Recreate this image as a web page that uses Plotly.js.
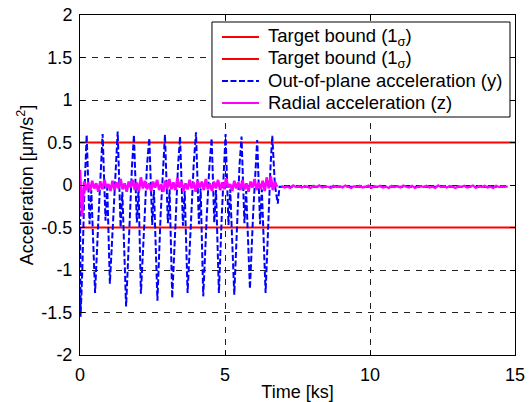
<!DOCTYPE html>
<html>
<head>
<meta charset="utf-8">
<script src="https://cdn.plot.ly/plotly-3.0.1.min.js"></script>
<style>html,body{margin:0;padding:0;background:#fff;}#chart{width:530px;height:402px;}</style>
</head>
<body>
<div id="chart"></div>
<script>
// ---- Data ----
var boundTime = [0, 15];
var boundUpper = [0.5, 0.5];
var boundLower = [-0.5, -0.5];

// Out-of-plane acceleration (y), time in ks
var outPlaneTime = [
  0.00, 0.02, 0.08, 0.14,
  0.23, 0.33, 0.39, 0.52, 0.64, 0.71,
  0.78, 0.88, 0.94, 1.03, 1.15, 1.23,
  1.30, 1.40, 1.46, 1.59, 1.71, 1.79,
  1.86, 1.96, 2.02, 2.10, 2.23, 2.31,
  2.39, 2.49, 2.55, 2.67, 2.78, 2.86,
  2.93, 3.03, 3.09, 3.18, 3.30, 3.38,
  3.45, 3.55, 3.61, 3.71, 3.84, 3.92,
  4.00, 4.10, 4.16, 4.25, 4.37, 4.46,
  4.54, 4.63, 4.69, 4.79, 4.89, 4.96,
  5.02, 5.12, 5.18, 5.32, 5.43, 5.50,
  5.57, 5.67, 5.73, 5.86, 5.97, 6.05,
  6.11, 6.21, 6.27, 6.40, 6.50, 6.57,
  6.63, 6.72, 6.82, 6.88, 14.70
];
var outPlaneAcc = [
  0.00, -1.55, -1.00, -0.20,
  0.59, -0.46, -0.06, -1.27, -0.36, 0.22,
  0.60, -0.42, -0.03, -1.16, -0.38, 0.24,
  0.63, -0.50, -0.08, -1.43, -0.34, 0.20,
  0.59, -0.44, -0.04, -1.28, -0.37, 0.23,
  0.55, -0.47, -0.06, -1.36, -0.35, 0.21,
  0.59, -0.45, -0.05, -1.33, -0.36, 0.22,
  0.57, -0.48, -0.07, -1.27, -0.34, 0.24,
  0.62, -0.46, -0.04, -1.31, -0.37, 0.21,
  0.55, -0.44, -0.06, -1.27, -0.35, 0.22,
  0.60, -0.47, -0.05, -1.29, -0.36, 0.23,
  0.57, -0.45, -0.07, -1.22, -0.34, 0.21,
  0.53, -0.46, -0.05, -1.27, -0.36, 0.22,
  0.58, 0.00, -0.22, -0.02, -0.02
];

// Radial acceleration (z): manoeuvre phase, sampled every 0.07 ks from t = 0
var radialStart = 0;
var radialStep = 0.07;
var radialAcc = [
  0.18, -0.37, 0.04, -0.06, 0.03, -0.07, 0.05, -0.04, 0.02, -0.08,
  0.04, -0.05, 0.06, -0.03, 0.01, -0.07, 0.05, -0.06, 0.03, -0.04,
  0.07, -0.05, 0.02, -0.08, 0.04, -0.03, 0.06, -0.06, 0.03, -0.07,
  0.09, -0.04, 0.05, -0.05, 0.02, -0.07, 0.04, -0.03, 0.06, -0.06,
  0.01, -0.08, 0.05, -0.04, 0.07, -0.05, 0.03, -0.06, 0.08, -0.03,
  0.04, -0.07, 0.02, -0.05, 0.06, -0.04, 0.03, -0.08, 0.05, -0.03,
  0.04, -0.06, 0.07, -0.05, 0.02, -0.07, 0.04, -0.04, 0.06, -0.06,
  0.03, -0.05, 0.08, -0.03, 0.01, -0.07, 0.05, -0.04, 0.03, -0.06,
  0.06, -0.05, 0.02, -0.08, 0.04, -0.03, 0.07, -0.06, 0.03, -0.05,
  0.05, -0.07, 0.09, -0.04, 0.10, -0.06, 0.04, -0.02
];
// Radial acceleration (z): quiet phase, sampled every 0.1 ks from t = 6.95
var radialTailStart = 6.95;
var radialTailStep = 0.1;
var radialTailAcc = [
  -0.01, -0.03, -0.02, -0.035, -0.005, -0.025, -0.015, -0.03, -0.01, -0.02,
  -0.035, -0.01, -0.025, -0.005, -0.03, -0.015, -0.02, -0.035, -0.01, -0.025,
  -0.015, -0.03, -0.005, -0.02, -0.035, -0.015, -0.025, -0.01, -0.03, -0.02,
  -0.005, -0.035, -0.015, -0.025, -0.01, -0.03, -0.02, -0.035, -0.01, -0.025,
  -0.015, -0.03, -0.005, -0.02, -0.03, -0.01, -0.035, -0.02, -0.015, -0.025,
  -0.01, -0.03, -0.02, -0.035, -0.005, -0.025, -0.015, -0.03, -0.01, -0.02,
  -0.035, -0.015, -0.025, -0.01, -0.03, -0.02, -0.005, -0.035, -0.015, -0.025,
  -0.01, -0.03, -0.02, -0.035, -0.01, -0.025, -0.015, -0.02, -0.02
];

var xTicks = [0, 5, 10, 15];
var yTicks = [-2, -1.5, -1, -0.5, 0, 0.5, 1, 1.5, 2];
var yTickLabels = ['-2', '-1.5', '-1', '-0.5', '0', '0.5', '1', '1.5', '2'];

var legendNames = [
  'Target bound (1<sub>σ</sub>)',
  'Target bound (1<sub>σ</sub>)',
  'Out-of-plane acceleration (y)',
  'Radial acceleration (z)'
];

// ---- Styles ----
var FONT = 'Liberation Sans, Arial, sans-serif';
var RED = '#ff0000', BLUE = '#0000ff', MAGENTA = '#ff00ff';
var BLUE_DASH = '6px,2.5px';
var lineStyles = [
  {color: RED, width: 2},
  {color: RED, width: 2},
  {color: BLUE, width: 2, dash: BLUE_DASH},
  {color: MAGENTA, width: 2}
];

var traces = [
  {x: boundTime, y: boundUpper, type: 'scatter', mode: 'lines', name: legendNames[0],
   line: lineStyles[0], showlegend: false},
  {x: boundTime, y: boundLower, type: 'scatter', mode: 'lines', name: legendNames[1],
   line: lineStyles[1], showlegend: false},
  {x: outPlaneTime, y: outPlaneAcc, type: 'scatter', mode: 'lines', name: legendNames[2],
   line: lineStyles[2], showlegend: false},
  {x0: radialStart, dx: radialStep, y: radialAcc, type: 'scatter', mode: 'lines', name: legendNames[3],
   line: {color: MAGENTA, width: 2.6}, showlegend: false},
  {x0: radialTailStart, dx: radialTailStep, y: radialTailAcc, type: 'scatter', mode: 'lines', name: legendNames[3],
   line: {color: MAGENTA, width: 2.2}, showlegend: false}
];

// ---- Legend box (MATLAB style), in paper coordinates ----
var legBox = {x0: 0.3034, x1: 0.9885, y0: 0.700, y1: 0.9794};
var legRowsY = [0.9353, 0.8706, 0.8059, 0.7412];
var legSampleX = [0.3264, 0.4115];
var legTextX = 0.4276;

var shapes = [{
  type: 'rect', xref: 'paper', yref: 'paper',
  x0: legBox.x0, x1: legBox.x1, y0: legBox.y0, y1: legBox.y1,
  fillcolor: '#fff', line: {color: '#000', width: 1}, layer: 'above'
}];
var annotations = [];
legendNames.forEach(function (name, i) {
  shapes.push({
    type: 'line', xref: 'paper', yref: 'paper',
    x0: legSampleX[0], x1: legSampleX[1], y0: legRowsY[i], y1: legRowsY[i],
    line: lineStyles[i], layer: 'above'
  });
  annotations.push({
    xref: 'paper', yref: 'paper', x: legTextX, y: legRowsY[i],
    xanchor: 'left', yanchor: 'middle', showarrow: false, text: name,
    font: {family: FONT, size: 18.5, color: '#000'}
  });
});

var axisCommon = {
  showline: true, linecolor: '#000', linewidth: 1, mirror: 'ticks',
  ticks: 'inside', ticklen: 5, tickcolor: '#000', tickwidth: 1,
  showgrid: true, gridcolor: '#222', gridwidth: 1, griddash: '6px,6px',
  zeroline: false, automargin: false,
  tickfont: {family: FONT, size: 18, color: '#000'}
};

var layout = {
  width: 530, height: 402,
  margin: {l: 80, r: 15, t: 15, b: 47, pad: 0},
  paper_bgcolor: '#fff', plot_bgcolor: '#fff',
  font: {family: FONT, size: 18, color: '#000'},
  showlegend: false,
  shapes: shapes,
  annotations: annotations,
  xaxis: Object.assign({}, axisCommon, {
    range: [0, 15], tickmode: 'array', tickvals: xTicks,
    ticklabelstandoff: 3,
    title: {text: 'Time [ks]', font: {family: FONT, size: 18, color: '#000'}, standoff: 4}
  }),
  yaxis: Object.assign({}, axisCommon, {
    range: [-2, 2], tickmode: 'array', tickvals: yTicks, ticktext: yTickLabels,
    ticklabelstandoff: 3,
    title: {text: 'Acceleration [μm/s<sup>2</sup>]', font: {family: FONT, size: 18, color: '#000'}, standoff: 3}
  })
};

Plotly.newPlot('chart', traces, layout, {displayModeBar: false, staticPlot: true});
</script>
</body>
</html>
